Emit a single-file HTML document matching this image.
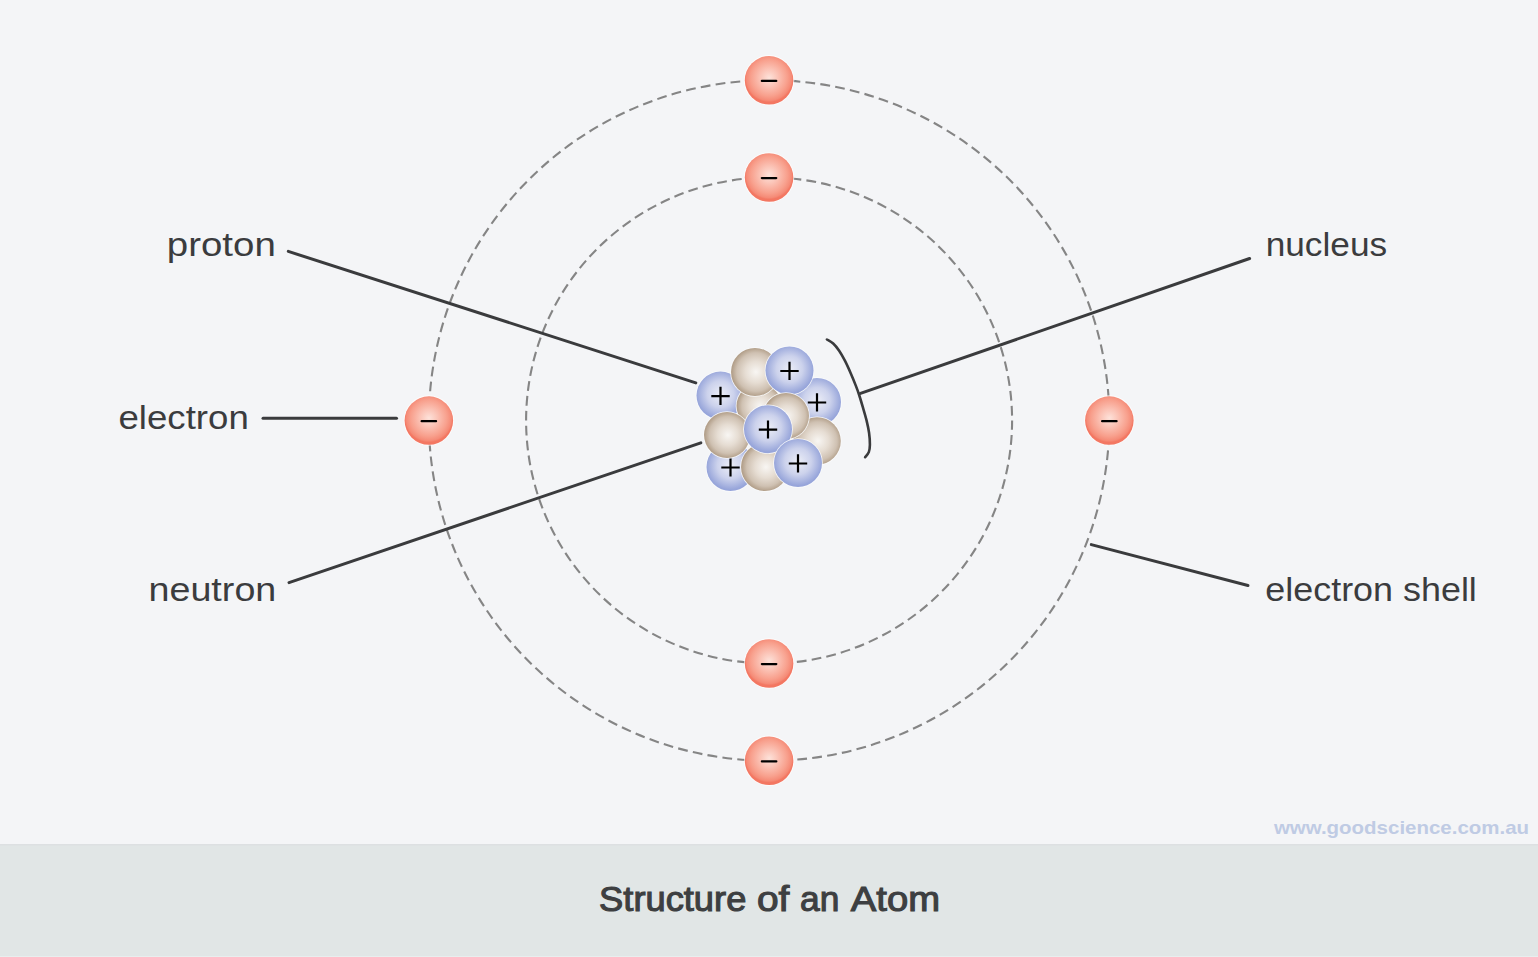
<!DOCTYPE html>
<html><head><meta charset="utf-8"><style>
html,body{margin:0;padding:0;background:#f4f5f7;}
body{width:1538px;height:957px;overflow:hidden;position:relative;}
svg{position:absolute;left:0;top:0;display:block;}
text{font-family:"Liberation Sans",sans-serif;}
</style></head><body>
<svg width="1538" height="957" viewBox="0 0 1538 957">
<defs>
<radialGradient id="gp" cx="0.5" cy="0.47" r="0.5">
<stop offset="0" stop-color="#eceef7"/><stop offset="0.55" stop-color="#ccd2ec"/><stop offset="1" stop-color="#97a5da"/>
</radialGradient>
<radialGradient id="gn" cx="0.52" cy="0.5" r="0.5">
<stop offset="0" stop-color="#f8f6f3"/><stop offset="0.45" stop-color="#e6ddd3"/><stop offset="0.8" stop-color="#cfc1b2"/><stop offset="1" stop-color="#b3a08b"/>
</radialGradient>
<radialGradient id="ge" cx="0.5" cy="0.45" r="0.5">
<stop offset="0" stop-color="#fde2da"/><stop offset="0.35" stop-color="#fbc4b7"/><stop offset="0.75" stop-color="#f8a08d"/><stop offset="0.93" stop-color="#f58b77"/><stop offset="1" stop-color="#f37762"/>
</radialGradient>
</defs>
<rect x="0" y="0" width="1538" height="957" fill="#f4f5f7"/>
<rect x="0" y="844" width="1538" height="113" fill="#e1e6e6"/>
<rect x="0" y="844" width="1538" height="1.5" fill="#dde0e2"/>
<rect x="0" y="956" width="1538" height="1" fill="#e8eeee"/>

<circle cx="769.1" cy="420.5" r="243" fill="none" stroke="#858585" stroke-width="2.1" stroke-dasharray="9.8 5.169" stroke-dashoffset="0.4"/>
<circle cx="769.1" cy="420.5" r="340.25" fill="none" stroke="#858585" stroke-width="2.1" stroke-dasharray="9.8 5.240" stroke-dashoffset="0.15"/>
<circle cx="769.05" cy="80.3" r="25.2" fill="#ffffff" opacity="0.7"/>
<circle cx="769.05" cy="80.3" r="24.25" fill="url(#ge)"/>
<path d="M761.8499999999999 80.89999999999999H776.25" stroke="#000" stroke-width="2.3" stroke-linecap="round"/>
<circle cx="769.05" cy="177.5" r="25.2" fill="#ffffff" opacity="0.7"/>
<circle cx="769.05" cy="177.5" r="24.25" fill="url(#ge)"/>
<path d="M761.8499999999999 178.1H776.25" stroke="#000" stroke-width="2.3" stroke-linecap="round"/>
<circle cx="769.1" cy="663.5" r="25.2" fill="#ffffff" opacity="0.7"/>
<circle cx="769.1" cy="663.5" r="24.25" fill="url(#ge)"/>
<path d="M761.9 664.1H776.3000000000001" stroke="#000" stroke-width="2.3" stroke-linecap="round"/>
<circle cx="769.1" cy="760.8" r="25.2" fill="#ffffff" opacity="0.7"/>
<circle cx="769.1" cy="760.8" r="24.25" fill="url(#ge)"/>
<path d="M761.9 761.4H776.3000000000001" stroke="#000" stroke-width="2.3" stroke-linecap="round"/>
<circle cx="428.85" cy="420.55" r="25.2" fill="#ffffff" opacity="0.7"/>
<circle cx="428.85" cy="420.55" r="24.25" fill="url(#ge)"/>
<path d="M421.65000000000003 421.15000000000003H436.05" stroke="#000" stroke-width="2.3" stroke-linecap="round"/>
<circle cx="1109.35" cy="420.55" r="25.2" fill="#ffffff" opacity="0.7"/>
<circle cx="1109.35" cy="420.55" r="24.25" fill="url(#ge)"/>
<path d="M1102.1499999999999 421.15000000000003H1116.55" stroke="#000" stroke-width="2.3" stroke-linecap="round"/>
<path d="M288.3 251.4L695.8 382.9" stroke="#3a3b3d" stroke-width="3" stroke-linecap="round" fill="none"/>
<path d="M289 582.6L700.8 442.8" stroke="#3a3b3d" stroke-width="3" stroke-linecap="round" fill="none"/>
<path d="M263 418.3H396.5" stroke="#3a3b3d" stroke-width="3" stroke-linecap="round" fill="none"/>
<path d="M860.5 393.4L1249.6 258.5" stroke="#3a3b3d" stroke-width="3" stroke-linecap="round" fill="none"/>
<path d="M1091.3 544.6L1248 585.5" stroke="#3a3b3d" stroke-width="3" stroke-linecap="round" fill="none"/>
<path d="M826.90 339.50C827.95 340.17 831.18 341.67 833.20 343.50C835.22 345.33 837.05 347.63 839.00 350.50C840.95 353.37 842.95 356.92 844.90 360.70C846.85 364.48 848.88 369.05 850.70 373.20C852.52 377.35 854.42 382.05 855.80 385.60C857.18 389.15 857.82 390.87 859.00 394.50C860.18 398.13 861.63 403.05 862.90 407.40C864.17 411.75 865.57 416.33 866.60 420.60C867.63 424.87 868.55 428.98 869.10 433.00C869.65 437.02 869.95 441.52 869.90 444.70C869.85 447.88 869.60 450.02 868.80 452.10C868.00 454.18 865.72 456.35 865.10 457.20" stroke="#3a3b3d" stroke-width="2.6" stroke-linecap="round" fill="none"/>
<circle cx="720.5" cy="395.6" r="24.8" fill="#fbfcfd" opacity="0.9"/><circle cx="720.5" cy="395.6" r="24" fill="url(#gp)"/><path d="M711.3 396.1H729.7M720.5 386.8V405.0" stroke="#000" stroke-width="2.2"/>
<circle cx="759" cy="406" r="23.3" fill="#fbfcfd" opacity="0.9"/><circle cx="759" cy="406" r="22.5" fill="url(#gn)"/>
<circle cx="755" cy="372" r="24.8" fill="#fbfcfd" opacity="0.9"/><circle cx="755" cy="372" r="24" fill="url(#gn)"/>
<circle cx="817" cy="402" r="24.8" fill="#fbfcfd" opacity="0.9"/><circle cx="817" cy="402" r="24" fill="url(#gp)"/><path d="M807.8 402.5H826.2M817 393.2V411.4" stroke="#000" stroke-width="2.2"/>
<circle cx="789.5" cy="370.5" r="24.8" fill="#fbfcfd" opacity="0.9"/><circle cx="789.5" cy="370.5" r="24" fill="url(#gp)"/><path d="M780.3 371.0H798.7M789.5 361.7V379.9" stroke="#000" stroke-width="2.2"/>
<circle cx="817" cy="441" r="24.6" fill="#fbfcfd" opacity="0.9"/><circle cx="817" cy="441" r="23.8" fill="url(#gn)"/>
<circle cx="786" cy="416" r="23.8" fill="#fbfcfd" opacity="0.9"/><circle cx="786" cy="416" r="23" fill="url(#gn)"/>
<circle cx="730.5" cy="467" r="24.8" fill="#fbfcfd" opacity="0.9"/><circle cx="730.5" cy="467" r="24" fill="url(#gp)"/><path d="M721.3 467.5H739.7M730.5 458.2V476.4" stroke="#000" stroke-width="2.2"/>
<circle cx="727" cy="435" r="23.8" fill="#fbfcfd" opacity="0.9"/><circle cx="727" cy="435" r="23" fill="url(#gn)"/>
<circle cx="765" cy="467" r="24.8" fill="#fbfcfd" opacity="0.9"/><circle cx="765" cy="467" r="24" fill="url(#gn)"/>
<circle cx="768" cy="429.2" r="24.8" fill="#fbfcfd" opacity="0.9"/><circle cx="768" cy="429.2" r="24" fill="url(#gp)"/><path d="M758.8 429.7H777.2M768 420.4V438.59999999999997" stroke="#000" stroke-width="2.2"/>
<circle cx="798" cy="463" r="24.8" fill="#fbfcfd" opacity="0.9"/><circle cx="798" cy="463" r="24" fill="url(#gp)"/><path d="M788.8 463.5H807.2M798 454.2V472.4" stroke="#000" stroke-width="2.2"/>
<text x="166.8" y="256" font-size="34" font-weight="normal" fill="#3b3c3e" textLength="109.02" lengthAdjust="spacingAndGlyphs">proton</text>
<text x="118.5" y="428.6" font-size="34" font-weight="normal" fill="#3b3c3e" textLength="130.27" lengthAdjust="spacingAndGlyphs">electron</text>
<text x="148.5" y="600.8" font-size="34" font-weight="normal" fill="#3b3c3e" textLength="127.82" lengthAdjust="spacingAndGlyphs">neutron</text>
<text x="1265.7" y="255.8" font-size="34" font-weight="normal" fill="#3b3c3e" textLength="121.4" lengthAdjust="spacingAndGlyphs">nucleus</text>
<text x="1265.3" y="600.6" font-size="34" font-weight="normal" fill="#3b3c3e" textLength="211.55" lengthAdjust="spacingAndGlyphs">electron shell</text>
<text x="599.1" y="910.5" font-size="35" font-weight="normal" fill="#3d3f41" stroke="#3d3f41" stroke-width="1.1" textLength="147.23" lengthAdjust="spacingAndGlyphs">Structure</text>
<text x="757.0" y="910.5" font-size="35" font-weight="normal" fill="#3d3f41" stroke="#3d3f41" stroke-width="1.1" textLength="32.42" lengthAdjust="spacingAndGlyphs">of</text>
<text x="800.1" y="910.5" font-size="35" font-weight="normal" fill="#3d3f41" stroke="#3d3f41" stroke-width="1.1" textLength="39.28" lengthAdjust="spacingAndGlyphs">an</text>
<text x="850.8" y="910.5" font-size="35" font-weight="normal" fill="#3d3f41" stroke="#3d3f41" stroke-width="1.1" textLength="89.23" lengthAdjust="spacingAndGlyphs">Atom</text>
<text x="1273.9" y="834" font-size="19" font-weight="bold" fill="#bfcbe4" textLength="255.2" lengthAdjust="spacingAndGlyphs">www.goodscience.com.au</text>
</svg>
</body></html>
